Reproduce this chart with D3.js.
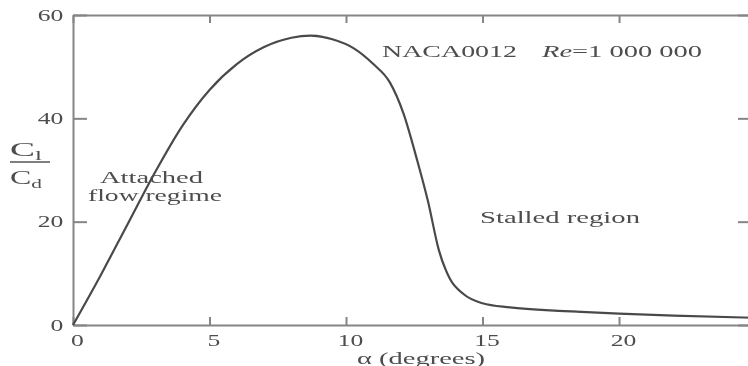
<!DOCTYPE html>
<meta charset="utf-8">
<style>
body { margin: 0; background: #fff; }
text { font-family: "Liberation Serif", "DejaVu Serif", serif; fill: #4d4d4d; }
.axis path, .axis line { stroke: #858585; stroke-width: 2px; }
</style>
<svg width="748" height="366"></svg>
<script src="https://d3js.org/d3.v7.min.js"></script>
<script>
// angle of attack (deg) and lift/drag ratio
var alpha = [0, 1, 2, 3, 4, 5, 6, 7, 8, 8.7, 9.5, 10.3, 11, 11.6, 12.1, 12.6, 13.0, 13.4, 13.8, 14.3, 15, 16, 18, 20, 22, 24.9];
var ratio = [0, 9.5, 19.5, 29.5, 38.5, 45.5, 50.5, 53.8, 55.6, 56, 55.3, 53.5, 50.5, 47, 41, 32, 24, 14.5, 9, 6, 4.2, 3.4, 2.7, 2.2, 1.8, 1.4];

var xTicks = [0, 5, 10, 15, 20, 25];
var yTicks = [0, 20, 40, 60];

var sx = 1.6; // the picture is stretched sideways

var svg = d3.select("svg");

svg.append("defs").append("filter").attr("id", "soft")
  .append("feGaussianBlur").attr("stdDeviation", 0.6);

var g = svg.append("g").attr("filter", "url(#soft)");

var x = d3.scaleLinear().domain([0, 24.87]).range([73, 752]);
var y = d3.scaleLinear().domain([0, 60]).range([325, 15]);

// bottom axis
var bottom = g.append("g").attr("class", "axis")
  .attr("transform", "translate(0," + y(0) + ")")
  .call(d3.axisBottom(x).tickValues(xTicks).tickSizeInner(-8).tickSizeOuter(0).tickPadding(10).tickFormat(d3.format("d")));
bottom.selectAll("text")
  .attr("font-size", 16)
  .attr("transform", "scale(" + sx + ",1)")
  .attr("dx", 2.5);

// top axis, no labels
g.append("g").attr("class", "axis")
  .attr("transform", "translate(0," + y(60) + ")")
  .call(d3.axisTop(x).tickValues(xTicks).tickSizeInner(-8).tickSizeOuter(0).tickFormat(""));

// left axis
var left = g.append("g").attr("class", "axis")
  .attr("transform", "translate(" + x(0) + ",0)")
  .call(d3.axisLeft(y).tickValues(yTicks).tickSizeInner(-14).tickSizeOuter(0));
left.selectAll("text")
  .attr("font-size", 16)
  .attr("x", -6)
  .attr("transform", "scale(" + sx + ",1)");

// right axis, no labels
g.append("g").attr("class", "axis")
  .attr("transform", "translate(" + x(24.87) + ",0)")
  .call(d3.axisRight(y).tickValues(yTicks).tickSizeInner(-14).tickSizeOuter(0).tickFormat(""));

// curve
var line = d3.line()
  .x(function(d, i) { return x(alpha[i]); })
  .y(function(d) { return y(d); })
  .curve(d3.curveMonotoneX);

g.append("path")
  .datum(ratio)
  .attr("d", line)
  .attr("fill", "none")
  .attr("stroke", "#4a4a4a")
  .attr("stroke-width", 2.2);

// annotations
function label(str, x0, base, w, size) {
  return g.append("text")
    .attr("x", x0).attr("y", base)
    .attr("font-size", size || 16)
    .attr("textLength", w)
    .attr("lengthAdjust", "spacingAndGlyphs")
    .text(str);
}

label("NACA0012", 382, 57, 135);
var re = g.append("text").attr("x", 542).attr("y", 57).attr("font-size", 16)
  .attr("textLength", 160).attr("lengthAdjust", "spacingAndGlyphs");
re.append("tspan").attr("font-style", "italic").text("Re");
re.append("tspan").text("=1 000 000");

label("Attached", 100, 183, 103);
label("flow regime", 88, 201, 134);
label("Stalled region", 480, 223, 160);

var xl = g.append("text").attr("x", 357).attr("y", 364).attr("font-size", 16)
  .attr("textLength", 128).attr("lengthAdjust", "spacingAndGlyphs");
xl.append("tspan").text("\u03b1 (degrees)");

// y label as a fraction Cl / Cd
var yl = g.append("g").attr("transform", "translate(10,0)");
var num = yl.append("text").attr("x", 0).attr("y", 156).attr("font-size", 18)
  .attr("textLength", 32).attr("lengthAdjust", "spacingAndGlyphs");
num.append("tspan").text("C");
num.append("tspan").attr("font-size", 12).attr("dy", 4).text("l");
yl.append("line").attr("x1", 0).attr("x2", 40).attr("y1", 162).attr("y2", 162)
  .attr("stroke", "#555").attr("stroke-width", 1.6);
var den = yl.append("text").attr("x", 0).attr("y", 184).attr("font-size", 18)
  .attr("textLength", 32).attr("lengthAdjust", "spacingAndGlyphs");
den.append("tspan").text("C");
den.append("tspan").attr("font-size", 12).attr("dy", 4).text("d");
</script>
